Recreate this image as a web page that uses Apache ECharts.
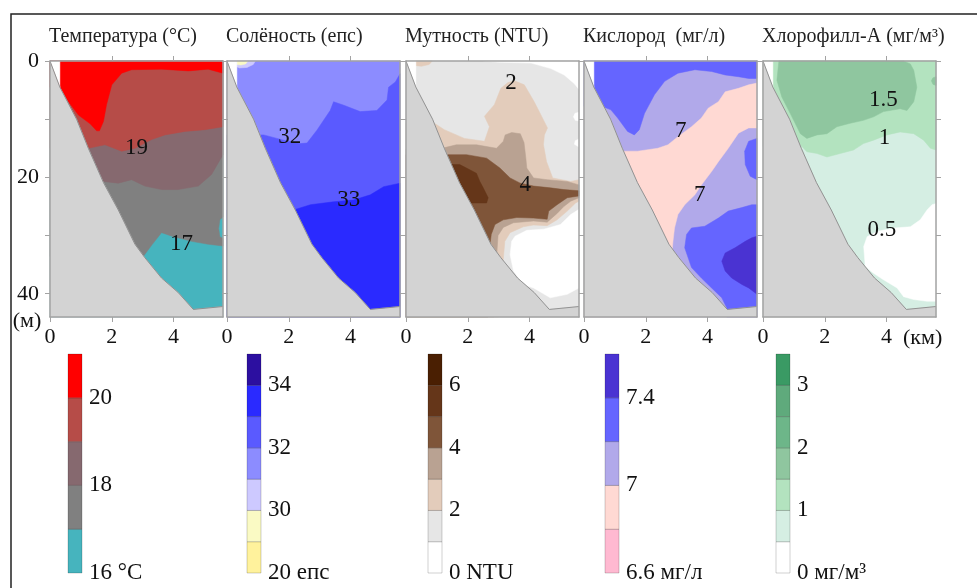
<!DOCTYPE html>
<html><head><meta charset="utf-8">
<script src="https://cdn.jsdelivr.net/npm/echarts@6/dist/echarts.min.js"></script>
<style>html,body{margin:0;padding:0;background:#fff}#c{width:977px;height:588px}</style>
</head><body><div id="c"></div>
<script>
// ---------- axes / text ----------
const xMax = 5.6, yMax = 44;
const distTicks = [0, 2, 4];
const distTopTicks = [2, 4];
const depthTicks = [0, 10, 20, 30, 40];
const depthLabels = [0, 20, 40];
const titles = ['Температура (°C)', 'Солёность (епс)', 'Мутность (NTU)', 'Кислород  (мг/л)', 'Хлорофилл-А (мг/м³)'];

// ---------- section geometry (km, m) ----------
const bathymetry = [[0,0],[0.32,4.5],[0.86,10],[1.24,15],[1.73,20.9],[2.21,25.6],[2.75,31.5],[3.07,33.8],[3.61,37.3],[4.15,39.8],[4.64,42.7],[5.6,42.2]];
const nearshoreGap = [[0,0],[0.32,0],[0.32,4.5]];
const fullSection = [[0,0],[5.6,0],[5.6,44],[0,44]];

// ---------- temperature (°C) ----------
const tempColors = ['#46B4BE','#808080','#86696F','#B64C48','#FF0000'];
const tempBarLabels = ['16 °C','','18','','20',''];
const tempGe17 = [[0,0],[5.6,0],[5.6,26.8],[5.5,27.3],[5.46,28.8],[5.5,30.2],[5.6,30.5],[5.6,31.8],[5.12,31.5],[4.58,31],[3.94,30.1],[3.78,29.8],[3.61,29.5],[3.3,31.6],[3.02,33.6],[0,33.6]];
const tempGe18 = [[0,0],[5.6,0],[5.6,16.1],[5.23,19.5],[4.8,21.5],[4.15,22.1],[3.61,22.1],[3.07,21.5],[2.64,20.4],[2.21,21],[1.73,20.7],[0,20.7]];
const tempGe19 = [[0,0],[5.6,0],[5.6,11.3],[5.02,11.8],[4.37,12.1],[3.72,12.7],[3.29,13.5],[2.75,15],[2.32,15.5],[1.78,14.4],[1.24,15],[0,15]];
const tempGe20 = [[0,0],[5.6,0],[5.6,2.1],[5.12,1.4],[4.48,1.7],[3.61,1.4],[2.64,1.5],[2.32,2.1],[2.0,4.1],[1.83,7.5],[1.73,10.4],[1.6,12],[1.51,12],[1.3,10.8],[0.92,9.3],[0.6,7],[0.32,4.5],[0,4.5]];
const tempLabels = [[2.8,15,'19'],[4.26,31.4,'17']];

// ---------- salinity (епс) ----------
const salColors = ['#FFF29C','#FAFAC4','#CDC9FF','#8C8CFF','#5A5AFF','#2A2AFF','#2C0FA0'];
const salBarLabels = ['20 епс','','30','','32','','34',''];
const salGe32 = [[0,44],[0,12.7],[1.19,12.7],[1.83,13.6],[2.37,14.2],[2.59,14.1],[2.91,11.9],[3.34,8.5],[3.45,7],[3.78,7.6],[4.31,8.7],[4.85,8.5],[5.18,6.7],[5.23,4.5],[5.45,3.6],[5.6,2.2],[5.6,44]];
const salGe33 = [[0,44],[0,25.6],[2.16,25.6],[2.7,24.7],[3.45,24.2],[4.1,23.9],[4.64,23],[5.07,21.6],[5.6,21],[5.6,44]];
const salLt31 = [[0.32,0],[0.92,0],[0.85,0.6],[0.65,1.1],[0.4,1.2],[0.32,1.0]];
const salLt30 = [[0.32,0],[0.68,0],[0.6,0.5],[0.45,0.7],[0.32,0.6]];
const salLabels = [[2.03,13,'32'],[3.94,23.9,'33']];

// ---------- turbidity (NTU) ----------
const turbColors = ['#FFFFFF','#E6E6E6','#E3CCBB','#B9A292','#7F5539','#653619','#4A1F02'];
const turbBarLabels = ['0 NTU','','2','','4','','6',''];
const turbLt1Top = [[2.5,0],[5.6,0],[5.6,4.9],[5.45,3.9],[5.12,2.4],[4.69,1.3],[4.05,0.35],[3.0,0.2]];
const turbLt1Dot1 = [[5.6,8.8],[5.47,9.0],[5.42,9.6],[5.48,10.2],[5.6,10.3]];
const turbLt1Dot2 = [[5.6,13.4],[5.48,13.7],[5.45,14.3],[5.6,14.8]];
const turbLt1Low = [[3.53,30.1],[3.91,29.1],[4.46,28.9],[5.0,28.1],[5.33,26.4],[5.6,25.5],[5.6,39],[5.22,40.1],[4.67,40.7],[4.13,39],[3.8,38.4],[3.48,36.1],[3.37,33.3],[3.42,31]];
const turbGe2 = [[0,44],[0,10.7],[0.92,10.7],[1.24,11.8],[1.89,13.3],[2.54,13.8],[2.7,11.3],[2.54,9.5],[2.86,7.5],[3.07,4.7],[3.3,3.7],[3.51,3.4],[3.83,4.1],[4.15,7],[4.37,9.3],[4.58,11.5],[4.48,12.7],[4.45,14.4],[4.55,17.3],[4.75,20.1],[5.33,20.7],[5.6,20.4],[5.6,24.1],[5.49,24.4],[5.22,25.8],[4.89,27.3],[4.57,28.3],[4.13,28.2],[3.8,28.5],[3.37,29.5],[3.2,31],[3.15,34],[3.0,44]];
const turbGe2Top = [[0.3,0],[0.85,0],[0.75,0.6],[0.5,0.9],[0.32,0.8]];
const turbGe3 = [[0,44],[0,15.1],[1.09,15.1],[1.63,14.4],[2.28,14.4],[2.93,15],[3.15,13.8],[3.21,12.7],[3.42,12.3],[3.7,12.5],[3.82,14.0],[3.88,16.7],[3.91,18.4],[4.13,20.1],[4.57,20.4],[5.22,20.7],[5.6,21.3],[5.6,23.5],[5.33,24.1],[5.11,25],[4.89,26.2],[4.57,27.7],[4.13,27.5],[3.48,27.8],[3.15,28.6],[2.98,30],[2.95,32.3],[2.85,44]];
const turbGe4 = [[0,44],[0,16.1],[1.3,16.1],[1.96,16.1],[2.61,16.7],[3.04,18.4],[3.37,20.1],[3.7,21],[4.13,21.5],[4.67,21.8],[5.11,22.1],[5.6,22.3],[5.6,23.2],[5.22,23.5],[4.89,24.7],[4.62,25.8],[4.57,27.2],[4.13,27],[3.59,26.9],[3.15,27.3],[2.88,28.1],[2.76,29.8],[2.72,31.5],[2.65,44]];
const turbGe5 = [[1.2,17.8],[1.74,17.8],[2.28,19.3],[2.39,20.7],[2.5,21.8],[2.66,23.5],[2.61,24.4],[2.17,24.4],[1.2,24.4]];
const turbLabels = [[3.4,3.8,'2'],[3.86,21.3,'4']];

// ---------- oxygen (мг/л) ----------
const oxyColors = ['#FFB9D1','#FFD9D3','#B1A9EA','#6565FF','#4A33D2'];
const oxyBarLabels = ['6.6 мг/л','','7','','7.4',''];
const oxyGe72Top = [[0,0],[5.6,0],[5.6,3.0],[5.33,3.0],[5.0,2.7],[4.57,2.4],[4.13,1.8],[3.59,1.5],[3.04,2.1],[2.61,3.5],[2.28,5.8],[1.96,9],[1.79,11.8],[1.63,12.7],[1.41,12.1],[1.09,9.8],[0.87,8.4],[0.6,7.8],[0,7.8]];
const oxyLt70 = [[0,44],[0,15.5],[1.2,15.5],[1.74,15.5],[2.39,15],[2.72,14.4],[3.04,13],[3.48,11.3],[3.8,9.8],[4.02,8.1],[4.35,7],[4.57,5.3],[5.0,4.7],[5.33,4.1],[5.6,3.8],[5.6,11.5],[5.33,11.5],[5.0,12.4],[4.67,15],[4.35,17.3],[4.13,19],[3.8,21.3],[3.59,23],[3.26,24.7],[3.04,26.4],[2.93,28.7],[2.88,31],[2.85,32.7],[2.8,44]];
const oxyGe72Right = [[5.6,13.3],[5.33,13.8],[5.2,15.5],[5.22,17.8],[5.38,19.8],[5.6,20.4]];
const oxyGe72Low = [[3.32,29.8],[3.48,28.7],[3.91,28.4],[4.35,27],[4.67,25.8],[5.11,25.2],[5.43,24.7],[5.6,24.7],[5.6,44],[4.62,44],[4.62,42.4],[4.46,40.7],[4.13,39],[3.8,37.3],[3.48,35.5],[3.26,32.1]];
const oxyGe74 = [[4.46,34.4],[4.57,33],[4.89,32.1],[5.22,31],[5.43,30.4],[5.6,30.1],[5.6,40.1],[5.33,39],[5.11,38.4],[4.78,37.3],[4.57,36.1]];
const oxyLabels = [[3.13,12.1,'7'],[3.75,23,'7']];

// ---------- chlorophyll-a (мг/м³) ----------
const chlColors = ['#FFFFFF','#D5EEE3','#B3E3BF','#8FC69F','#6DB689','#5FAA7C','#3A9A64'];
const chlBarLabels = ['0 мг/м³','','1','','2','','3',''];
const chlGe1 = [[0,0],[5.6,0],[5.6,15.3],[5.42,15],[5.2,13.6],[4.88,12.5],[4.44,12.2],[4.01,12.7],[3.58,13.6],[3.25,14.2],[2.93,15.3],[2.5,15.9],[2.07,16.5],[1.75,15.9],[1.42,15.6],[1.26,14.7],[0,14.7]];
const chlGe15 = [[0.51,0],[4.55,0],[4.77,0.5],[4.88,1.6],[4.98,4.5],[4.88,7],[4.66,8.5],[4.44,8.2],[3.9,8.7],[3.58,9.6],[3.25,10.2],[2.82,10.7],[2.39,11.3],[2.07,12.5],[1.75,12.7],[1.42,13.3],[1.21,12.5],[0.88,9],[0.61,6.2],[0.45,3.3],[0.51,0.2]];
const chlGe15Blob = [[5.6,2.7],[5.5,2.9],[5.45,3.4],[5.5,4.0],[5.6,4.2]];
const chlLt05 = [[3.31,35.3],[3.26,31.9],[3.37,30.2],[3.69,29.3],[4.23,28.7],[4.77,28.5],[5.09,27.3],[5.31,25.6],[5.47,24.7],[5.6,24.5],[5.6,41.3],[5.31,41.3],[4.88,41],[4.55,40.5],[4.34,39],[3.9,37.6],[3.58,36.5]];
const chlLabels = [[3.9,6.7,'1.5'],[3.93,13.3,'1'],[3.85,29,'0.5']];

// ---------- assemble ----------
const panels = [
  {colors: tempColors, bar: tempBarLabels, labels: tempLabels,
   layers: [[fullSection,0],[tempGe17,1],[tempGe18,2],[tempGe19,3],[tempGe20,4]]},
  {colors: salColors, bar: salBarLabels, labels: salLabels,
   layers: [[fullSection,3],[salGe32,4],[salGe33,5],[salLt31,2],[salLt30,1]]},
  {colors: turbColors, bar: turbBarLabels, labels: turbLabels,
   layers: [[fullSection,1],[turbLt1Top,0],[turbLt1Dot1,0],[turbLt1Dot2,0],[turbLt1Low,0],[turbGe2,2],[turbGe2Top,2],[turbGe3,3],[turbGe4,4],[turbGe5,5]]},
  {colors: oxyColors, bar: oxyBarLabels, labels: oxyLabels,
   layers: [[fullSection,2],[oxyGe72Top,3],[oxyLt70,1],[oxyGe72Right,3],[oxyGe72Low,3],[oxyGe74,4]]},
  {colors: chlColors, bar: chlBarLabels, labels: chlLabels,
   layers: [[fullSection,1],[chlGe1,2],[chlGe15,3],[chlGe15Blob,3],[chlLt05,0]]}
];

const FONT = '"Liberation Serif", "Times New Roman", serif';
const panelLeft = [50, 227, 406, 584, 763];
const panelW = 173, panelTop = 61, panelH = 256;
const barLeft = [68, 247, 428, 605, 776];
const barTop = 354, barH = 219, barW = 14;
const axisColor = '#a3a3a3';

const grid = [], xAxis = [], yAxis = [], series = [], graphic = [];

panels.forEach((p, i) => {
  grid.push({left: panelLeft[i], top: panelTop, width: panelW, height: panelH});
  const base = {gridIndex: i, type: 'value', min: 0, max: xMax, interval: 2, z: 10,
    splitLine: {show: false}};
  xAxis.push(Object.assign({}, base, {position: 'bottom',
    axisLine: {show: true, onZero: false, lineStyle: {color: axisColor, width: 1.5}},
    axisTick: {show: true, length: 5, lineStyle: {color: axisColor}, customValues: distTicks},
    axisLabel: {show: true, customValues: distTicks, formatter: v => distTicks.includes(v) ? String(v) : '',
      fontSize: 22, fontFamily: FONT, color: '#111', margin: 9}}));
  xAxis.push(Object.assign({}, base, {position: 'top',
    axisLine: {show: true, onZero: false, lineStyle: {color: axisColor, width: 1.5}},
    axisTick: {show: true, length: 5, lineStyle: {color: axisColor}, customValues: distTopTicks},
    axisLabel: {show: false}}));
  const ybase = {gridIndex: i, type: 'value', min: 0, max: yMax, interval: 10, inverse: true, z: 10,
    splitLine: {show: false}};
  yAxis.push(Object.assign({}, ybase, {position: 'left',
    axisLine: {show: true, onZero: false, lineStyle: {color: axisColor, width: 1.5}},
    axisTick: {show: true, length: 5, lineStyle: {color: axisColor}, customValues: depthTicks},
    axisLabel: {show: i === 0, customValues: depthLabels, formatter: v => depthLabels.includes(v) ? String(v) : '',
      fontSize: 22, fontFamily: FONT, color: '#111', margin: 11}}));
  yAxis.push(Object.assign({}, ybase, {position: 'right',
    axisLine: {show: true, onZero: false, lineStyle: {color: axisColor, width: 1.5}},
    axisTick: {show: true, length: 5, lineStyle: {color: axisColor}, customValues: depthTicks},
    axisLabel: {show: false}}));

  const items = p.layers.map(([poly, ci]) => ({poly, fill: p.colors[ci]}));
  items.push({poly: nearshoreGap, fill: '#ffffff'});
  items.push({poly: bathymetry.concat([[xMax, yMax], [0, yMax]]), fill: '#d3d3d3'});
  items.push({poly: bathymetry, line: true});
  series.push({
    type: 'custom', xAxisIndex: 2 * i, yAxisIndex: 2 * i, silent: true, z: 2,
    data: items.map(it => it.poly[0]),
    renderItem(params, api) {
      const it = items[params.dataIndex];
      const pts = it.poly.map(pt => api.coord(pt));
      if (it.line) return {type: 'polyline', shape: {points: pts}, style: {stroke: '#8a8a8a', lineWidth: 0.9, fill: null}};
      return {type: 'polygon', shape: {points: pts}, style: {fill: it.fill, stroke: it.fill, lineWidth: 0.5}};
    }
  });
  series.push({
    type: 'custom', xAxisIndex: 2 * i, yAxisIndex: 2 * i, silent: true, z: 3,
    data: p.labels.map(l => [l[0], l[1]]),
    renderItem(params, api) {
      const l = p.labels[params.dataIndex];
      const c = api.coord([l[0], l[1]]);
      return {type: 'text', x: c[0], y: c[1], style: {text: l[2], fill: '#111', font: '23px ' + FONT, align: 'center', verticalAlign: 'middle'}};
    }
  });
});

panels.forEach((p, j) => {
  const gi = 5 + j;
  const n = p.colors.length;
  grid.push({left: barLeft[j], top: barTop, width: barW, height: barH});
  xAxis.push({gridIndex: gi, type: 'value', min: 0, max: 1, show: false});
  yAxis.push({gridIndex: gi, type: 'value', min: 0, max: n, interval: 1, position: 'right',
    axisLine: {show: false}, axisTick: {show: false}, splitLine: {show: false},
    axisLabel: {show: true, showMinLabel: true, showMaxLabel: true, formatter: v => p.bar[v] || '',
      fontSize: 23, fontFamily: FONT, color: '#111', margin: 7}});
  series.push({
    type: 'custom', xAxisIndex: 10 + j, yAxisIndex: 10 + j, silent: true,
    data: p.colors.map((c, k) => [0, k]),
    renderItem(params, api) {
      const k = params.dataIndex;
      const a = api.coord([0, k]), b = api.coord([1, k + 1]);
      return {type: 'rect', shape: {x: a[0], y: b[1], width: b[0] - a[0], height: a[1] - b[1]},
        style: {fill: p.colors[k], stroke: 'rgba(0,0,0,0.18)', lineWidth: 1}};
    }
  });
});

titles.forEach((t, i) => {
  graphic.push({type: 'text', x: panelLeft[i] - 1, y: 37, silent: true,
    style: {text: t, fill: '#222', font: '20px ' + FONT, verticalAlign: 'middle'}});
});
graphic.push({type: 'text', x: 27, y: 321, style: {text: '(м)', fill: '#111', font: '22px ' + FONT, align: 'center', verticalAlign: 'middle'}});
graphic.push({type: 'text', x: 903, y: 338, style: {text: '(км)', fill: '#111', font: '22px ' + FONT, verticalAlign: 'middle'}});
graphic.push({type: 'polyline', shape: {points: [[11, 590], [11, 14], [980, 14]]}, style: {stroke: '#222', lineWidth: 1.5, fill: null}});

const chart = echarts.init(document.getElementById('c'), null, {renderer: 'canvas'});
chart.setOption({animation: false, backgroundColor: '#fff', grid, xAxis, yAxis, series, graphic});
</script></body></html>
